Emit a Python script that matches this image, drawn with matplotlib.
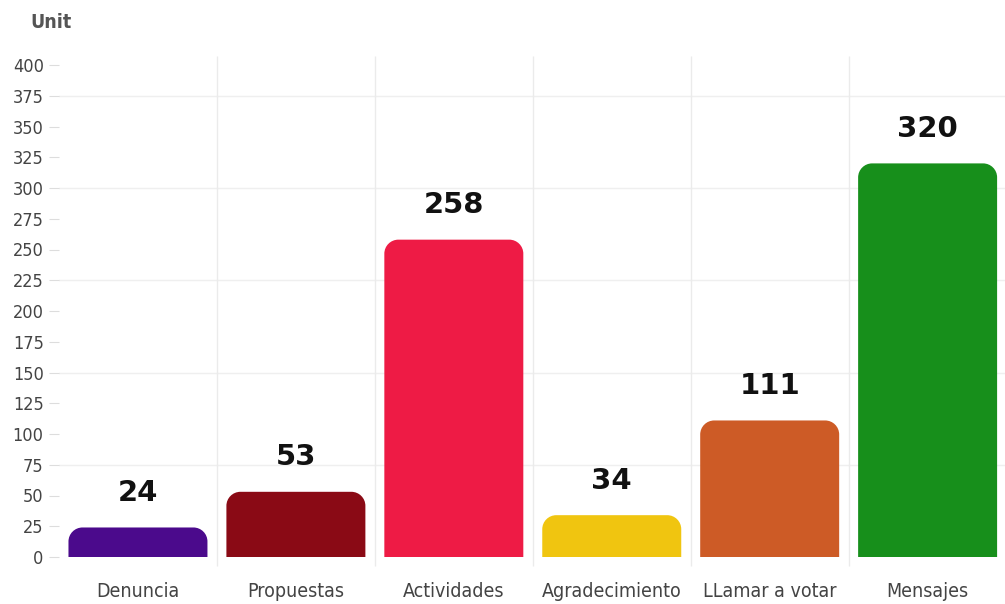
import matplotlib.pyplot as plt
from matplotlib.path import Path
from matplotlib.patches import PathPatch

# Data
categories = ["Denuncia", "Propuestas", "Actividades", "Agradecimiento", "LLamar a votar", "Mensajes"]
values = [24, 53, 258, 34, 111, 320]
colors = ["#4b0a8c", "#8a0a15", "#ee1b45", "#f0c510", "#cd5b26", "#178f1b"]
yticks = list(range(0, 401, 25))

fig = plt.figure(figsize=(10.05, 6.04), dpi=100)
ax = fig.add_axes([59 / 1005, 47 / 604, 946 / 1005, 492 / 604])
ax.set_xlim(-0.5, 5.49)
ax.set_ylim(0, 400)

# bars with rounded top corners
width = 0.88
bars = ax.bar(range(len(values)), values, width=width, color="none")
px_x = 946 / 5.99
px_y = 492 / 400
r = 14
rx, ry = r / px_x, r / px_y
k = 0.5523
for b, c in zip(bars, colors):
    x0, w, h = b.get_x(), b.get_width(), b.get_height()
    x1 = x0 + w
    verts = [(x0, 0), (x0, h - ry),
             (x0, h - ry + k * ry), (x0 + rx - k * rx, h), (x0 + rx, h),
             (x1 - rx, h),
             (x1 - rx + k * rx, h), (x1, h - ry + k * ry), (x1, h - ry),
             (x1, 0), (x0, 0)]
    codes = [Path.MOVETO, Path.LINETO,
             Path.CURVE4, Path.CURVE4, Path.CURVE4,
             Path.LINETO,
             Path.CURVE4, Path.CURVE4, Path.CURVE4,
             Path.LINETO, Path.CLOSEPOLY]
    ax.add_patch(PathPatch(Path(verts, codes), facecolor=c, edgecolor="none", zorder=3))
    ax.text(b.get_x() + w / 2, h + 28, str(h), ha="center", va="center",
            fontsize=21, fontweight="bold", color="#111111", zorder=4)

# grid
for yv in range(75, 401, 75):
    ax.axhline(yv, color="#efefef", lw=1, zorder=0)
for i in range(1, len(categories)):
    ax.vlines(i - 0.5, -7, 407, color="#ebebeb", lw=1, zorder=0, clip_on=False)

for s in ax.spines.values():
    s.set_visible(False)

ax.set_yticks(yticks)
ax.set_yticklabels([str(t) for t in yticks], fontsize=13, color="#444444",
                   family="DejaVu Sans", fontstretch="condensed")
ax.tick_params(axis="y", length=7, color="#dddddd", pad=4)
ax.set_xticks(range(len(categories)))
ax.set_xticklabels(categories, fontsize=14, color="#444444",
                   family="DejaVu Sans", fontstretch="condensed")
ax.tick_params(axis="x", length=0, pad=18)

fig.text(30 / 1005, 1 - 22 / 604, "Unit", fontsize=14, fontweight="bold",
         color="#555555", va="center", family="DejaVu Sans", fontstretch="condensed")

fig.savefig("out.png", dpi=100)
